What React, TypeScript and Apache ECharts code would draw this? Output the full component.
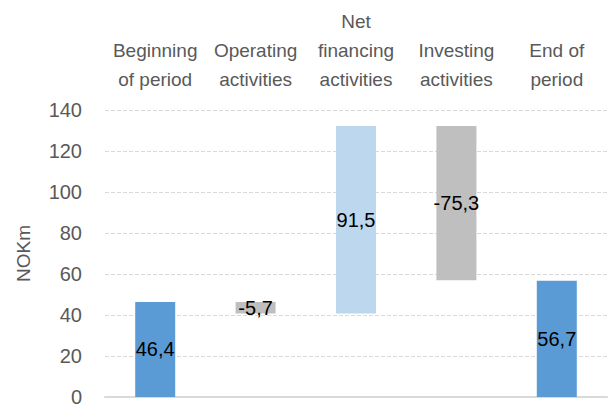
import React, { useEffect, useRef } from "react";
import * as echarts from "echarts";

const categories = [
  "Beginning\nof period",
  "Operating\nactivities",
  "Net\nfinancing\nactivities",
  "Investing\nactivities",
  "End of\nperiod",
];
const beginValue = 46.4;
const changes = [-5.7, 91.5, -75.3];
const endValue = 56.7;
const colors = ["#5B9BD5", "#BFBFBF", "#BDD7EE", "#BFBFBF", "#5B9BD5"];
const yTicks = { min: 0, max: 140, interval: 20 };

export default function App() {
  const ref = useRef<HTMLDivElement>(null);
  useEffect(() => {
    if (!ref.current) return;
    const chart = echarts.init(ref.current, undefined, { renderer: "svg" });

    const bases: number[] = [0];
    const heights: number[] = [beginValue];
    const signed: number[] = [beginValue];
    let running = beginValue;
    changes.forEach((c) => {
      const next = running + c;
      bases.push(Math.min(running, next));
      heights.push(Math.abs(c));
      signed.push(c);
      running = next;
    });
    bases.push(0);
    heights.push(endValue);
    signed.push(endValue);

    const font = "'Liberation Sans', Arial, sans-serif";
    const gray = "#595959";

    chart.setOption({
      animation: false,
      grid: { left: 105, right: 4, top: 110, bottom: 10, containLabel: false },
      xAxis: [
        {
          type: "category",
          data: categories,
          position: "bottom",
          axisLine: { show: true, lineStyle: { color: "#D9D9D9", width: 2 } },
          axisTick: { show: false },
          axisLabel: { show: false },
        },
        {
          type: "category",
          data: categories,
          position: "top",
          axisLine: { show: false },
          axisTick: { show: false },
          axisLabel: {
            show: true,
            interval: 0,
            color: gray,
            fontSize: 19,
            fontFamily: font,
            lineHeight: 29,
            margin: 16,
          },
        },
      ],
      yAxis: {
        type: "value",
        min: yTicks.min,
        max: yTicks.max,
        interval: yTicks.interval,
        name: "NOKm",
        nameLocation: "middle",
        nameRotate: 90,
        nameGap: 72,
        nameTextStyle: { color: gray, fontSize: 19, fontFamily: font },
        axisLine: { show: false },
        axisTick: { show: false },
        axisLabel: { color: gray, fontSize: 20, fontFamily: font, margin: 23 },
        splitLine: { lineStyle: { color: "#D9D9D9", type: "dashed", width: 1 } },
      },
      series: [
        {
          type: "bar",
          stack: "w",
          data: bases,
          barWidth: 40,
          itemStyle: { color: "transparent" },
          silent: true,
        },
        {
          type: "bar",
          stack: "w",
          barWidth: 40,
          data: heights.map((h, i) => ({ value: h, itemStyle: { color: colors[i] } })),
          label: {
            show: true,
            position: "inside",
            color: "#000",
            fontSize: 20,
            fontFamily: font,
            formatter: (p: any) => signed[p.dataIndex].toFixed(1).replace(".", ","),
          },
        },
      ],
    });
    return () => chart.dispose();
  }, []);
  return (
    <div
      ref={ref}
      style={{ position: "absolute", left: 0, top: 0, width: 611, height: 407 }}
    />
  );
}
